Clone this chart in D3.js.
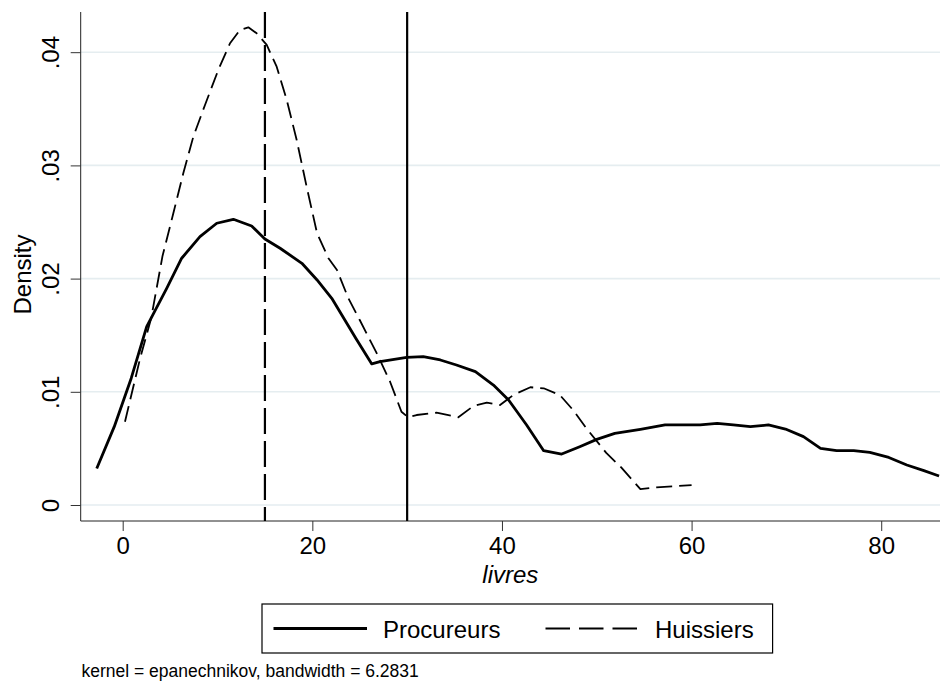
<!DOCTYPE html>
<html>
<head>
<meta charset="utf-8">
<script src="https://cdn.jsdelivr.net/npm/d3@7"></script>
<style>
  html, body { margin: 0; padding: 0; background: #fff; }
  svg { display: block; font-family: "Liberation Sans", Arial, Helvetica, sans-serif; }
</style>
</head>
<body>
<svg id="chart" width="948" height="684"></svg>
<script>
// Kernel density estimates of fees (livres), two professions
const procureursX = [-2.74, -0.89, 0.9, 2.53, 4.64, 6.22, 8.15, 9.92, 11.67, 13.6, 15.0, 16.6, 18.9, 20.5, 22.05, 24.6, 26.27, 27.14, 29.96, 31.7, 33.5, 35.2, 37.2, 39.1, 40.7, 42.6, 44.4, 46.3, 48.2, 50.0, 51.9, 54.6, 57.2, 60.9, 62.7, 64.4, 66.2, 68.1, 69.9, 71.8, 73.6, 75.3, 77.1, 78.8, 80.8, 82.7, 84.5, 86.1];
const procureursY = [0.00323, 0.00692, 0.0112, 0.01575, 0.01914, 0.0218, 0.0237, 0.02489, 0.02524, 0.02465, 0.0235, 0.02268, 0.02135, 0.01988, 0.01826, 0.0147, 0.01246, 0.01266, 0.01304, 0.0131, 0.01281, 0.01237, 0.01178, 0.0106, 0.00928, 0.00707, 0.0048, 0.0045, 0.00515, 0.0058, 0.00633, 0.00669, 0.00707, 0.00707, 0.00721, 0.00707, 0.00692, 0.00707, 0.00671, 0.00604, 0.005, 0.0048, 0.0048, 0.00465, 0.0042, 0.00353, 0.00303, 0.00256];

const huissiersX = [0.24, 1.82, 3.0, 4.2, 5.34, 6.39, 7.45, 8.68, 10.08, 11.32, 12.37, 13.25, 14.13, 15.19, 16.24, 17.3, 18.35, 19.4, 20.5, 21.7, 22.6, 23.8, 25.0, 26.8, 28.2, 29.4, 30.1, 31.0, 33.1, 35.4, 37.0, 38.4, 39.8, 41.2, 43.0, 44.4, 46.1, 47.5, 48.9, 51.0, 52.6, 54.6, 56.3, 58.0, 60.0];
const huissiersY = [0.00736, 0.0129, 0.0165, 0.022, 0.02577, 0.0293, 0.03254, 0.03534, 0.03843, 0.04079, 0.04196, 0.0422, 0.04167, 0.04064, 0.03872, 0.03578, 0.03224, 0.02812, 0.024, 0.0218, 0.02076, 0.01826, 0.01634, 0.0134, 0.01089, 0.00824, 0.00775, 0.00795, 0.00815, 0.00775, 0.00875, 0.00904, 0.00883, 0.00972, 0.0104, 0.01031, 0.00972, 0.00839, 0.00678, 0.0046, 0.0033, 0.0014, 0.00156, 0.00165, 0.00175];

// reference lines (livres)
const refSolid = 30;
const refDashed = 15;

const xTicks = [0, 20, 40, 60, 80];
const yTicks = [0, 0.01, 0.02, 0.03, 0.04];
const yTickLabels = ["0", ".01", ".02", ".03", ".04"];
const xDomain = [-4.43, 86.2];
const yDomain = [-0.001413, 0.04355];

const seriesNames = ["Procureurs", "Huissiers"];
const axisTitleX = "livres";
const axisTitleY = "Density";
const note = "kernel = epanechnikov, bandwidth = 6.2831";

const svg = d3.select("#chart");
const plot = { left: 80.7, right: 940, top: 12, bottom: 521 };

const x = d3.scaleLinear().domain(xDomain).range([plot.left, plot.right]);
const y = d3.scaleLinear().domain(yDomain).range([plot.bottom, plot.top]);

// gridlines
svg.append("g").selectAll("line").data(yTicks).join("line")
  .attr("x1", plot.left).attr("x2", plot.right)
  .attr("y1", d => y(d)).attr("y2", d => y(d))
  .attr("stroke", "#e5edf0").attr("stroke-width", 1.6);

// y axis with rotated labels
const yAxis = d3.axisLeft(y).tickValues(yTicks)
  .tickFormat((d, i) => yTickLabels[i]).tickSize(10).tickSizeOuter(0);
const gy = svg.append("g").attr("transform", `translate(${plot.left},0)`).call(yAxis);
gy.select(".domain").attr("stroke", "#222").attr("d", `M0,${plot.top}V${plot.bottom}`);
gy.selectAll(".tick line").attr("stroke", "#333");
gy.selectAll(".tick text")
  .attr("font-size", 24).attr("fill", "#000")
  .attr("text-anchor", "middle").attr("dy", 0)
  .attr("x", 0).attr("y", 0)
  .attr("transform", "translate(-21.5,0) rotate(-90)");

// x axis
const xAxis = d3.axisBottom(x).tickValues(xTicks).tickSize(10).tickSizeOuter(0);
const gx = svg.append("g").attr("transform", `translate(0,${plot.bottom})`).call(xAxis);
gx.select(".domain").attr("stroke", "#222").attr("d", `M${plot.left},0H${plot.right}`);
gx.selectAll(".tick line").attr("stroke", "#333");
gx.selectAll(".tick text").attr("font-size", 24).attr("fill", "#000")
  .attr("y", 33).attr("dy", 0);

// reference lines
svg.append("line")
  .attr("x1", x(refDashed)).attr("x2", x(refDashed))
  .attr("y1", plot.top).attr("y2", plot.bottom)
  .attr("stroke", "#000").attr("stroke-width", 2.2)
  .attr("stroke-dasharray", "26,7");
svg.append("line")
  .attr("x1", x(refSolid)).attr("x2", x(refSolid))
  .attr("y1", plot.top).attr("y2", plot.bottom)
  .attr("stroke", "#000").attr("stroke-width", 2.2);

const line = d3.line().x(d => x(d[0])).y(d => y(d[1]));
const procureurs = procureursX.map((v, i) => [v, procureursY[i]]);
const huissiers = huissiersX.map((v, i) => [v, huissiersY[i]]);

svg.append("path").datum(huissiers)
  .attr("d", line).attr("fill", "none")
  .attr("stroke", "#000").attr("stroke-width", 1.8)
  .attr("stroke-dasharray", "16,7").attr("stroke-linejoin", "round");
svg.append("path").datum(procureurs)
  .attr("d", line).attr("fill", "none")
  .attr("stroke", "#000").attr("stroke-width", 2.8).attr("stroke-linejoin", "round");

// axis titles
svg.append("text")
  .attr("x", (plot.left + plot.right) / 2).attr("y", 583)
  .attr("text-anchor", "middle").attr("font-size", 24).attr("font-style", "italic")
  .text(axisTitleX);
svg.append("text")
  .attr("transform", `translate(31,${(plot.top + plot.bottom) / 2 + 8}) rotate(-90)`)
  .attr("text-anchor", "middle").attr("font-size", 24)
  .text(axisTitleY);

// legend
const lg = svg.append("g");
lg.append("rect").attr("x", 262).attr("y", 604).attr("width", 510.6).attr("height", 49)
  .attr("fill", "#fff").attr("stroke", "#000").attr("stroke-width", 1.2);
lg.append("line").attr("x1", 273.5).attr("x2", 367).attr("y1", 628.5).attr("y2", 628.5)
  .attr("stroke", "#000").attr("stroke-width", 2.8);
lg.append("text").attr("x", 383).attr("y", 637.5).attr("font-size", 24).text(seriesNames[0]);
lg.append("line").attr("x1", 545.5).attr("x2", 637).attr("y1", 628.5).attr("y2", 628.5)
  .attr("stroke", "#000").attr("stroke-width", 1.8).attr("stroke-dasharray", "24.5,9");
lg.append("text").attr("x", 655).attr("y", 637.5).attr("font-size", 24).text(seriesNames[1]);

// note
svg.append("text").attr("x", 81.5).attr("y", 677).attr("font-size", 17.5).text(note);
</script>
</body>
</html>
